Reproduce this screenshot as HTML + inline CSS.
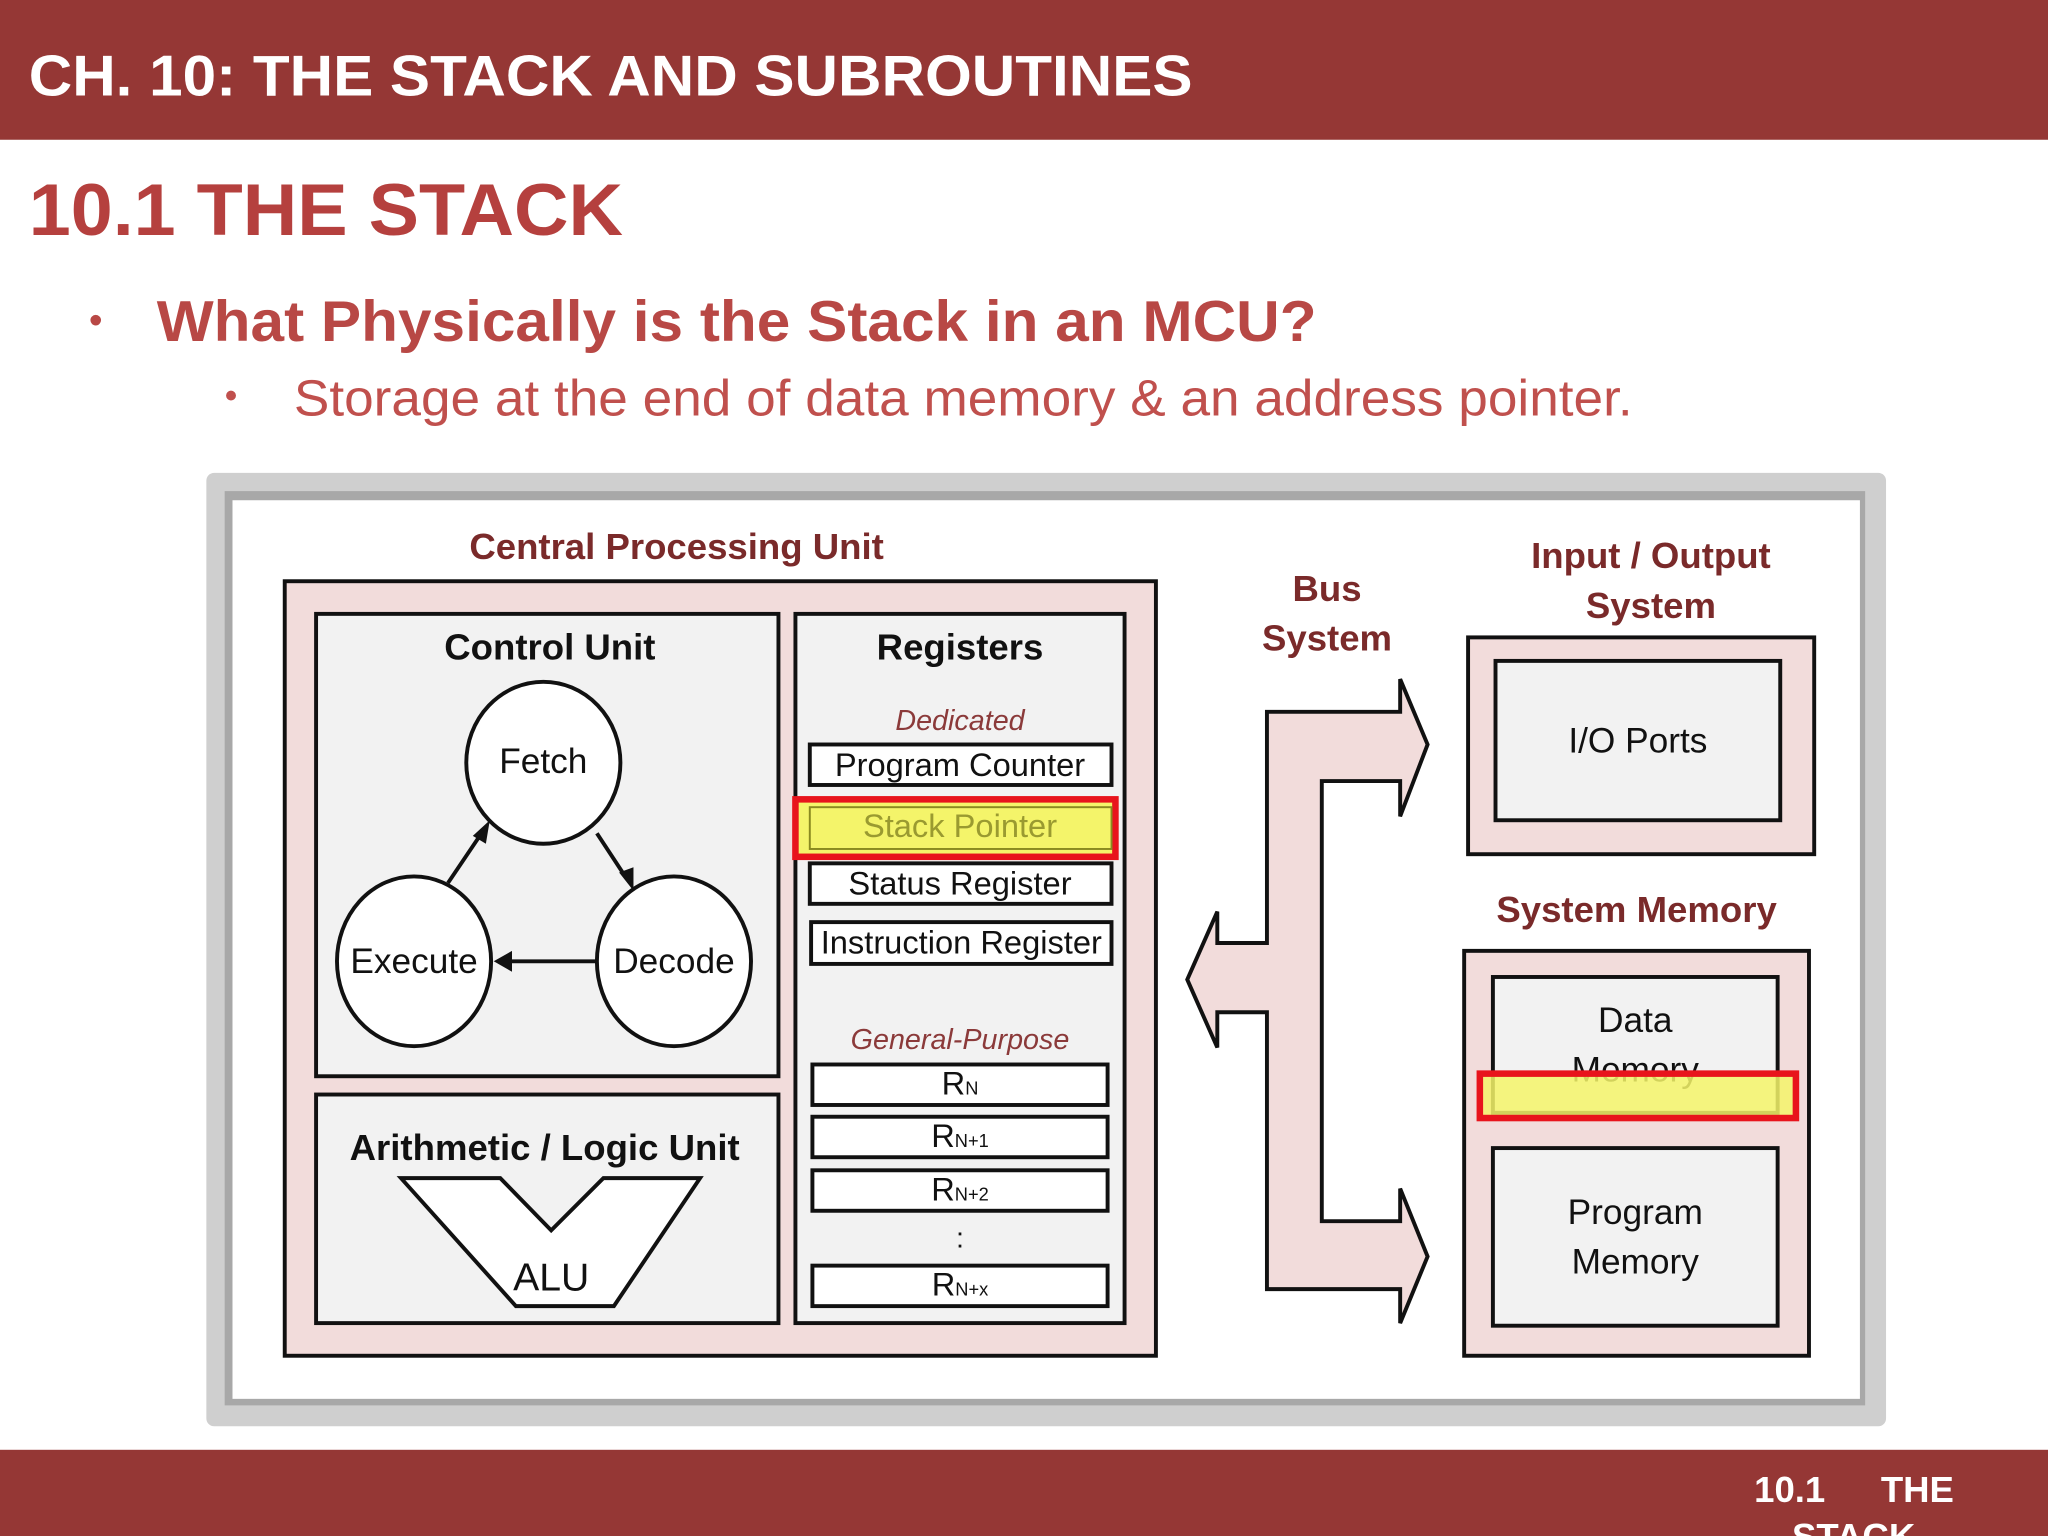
<!DOCTYPE html>
<html><head><meta charset="utf-8"><style>
html,body{margin:0;padding:0;background:#fff;}
svg{display:block;}
text{font-family:"Liberation Sans",Arial,sans-serif;}
</style></head><body>
<svg width="2048" height="1536" viewBox="0 0 1568 1176" xmlns="http://www.w3.org/2000/svg">
<rect x="0" y="0" width="1568" height="1176" fill="#fff"/>
<rect x="0" y="0" width="1568" height="107" fill="#953735"/>
<text x="22" y="73" font-size="44" font-weight="bold" fill="#fff" textLength="891" lengthAdjust="spacingAndGlyphs">CH. 10: THE STACK AND SUBROUTINES</text>
<text x="22" y="180" font-size="56" font-weight="bold" fill="#b5403e" textLength="455" lengthAdjust="spacingAndGlyphs">10.1 THE STACK</text>
<text x="68" y="255" font-size="30" fill="#b84845">•</text>
<text x="120" y="261" font-size="44" font-weight="bold" fill="#b84845" textLength="888" lengthAdjust="spacingAndGlyphs">What Physically is the Stack in an MCU?</text>
<text x="172" y="312" font-size="28" fill="#c0504d">•</text>
<text x="225" y="318" font-size="39" fill="#c0504d" textLength="1025" lengthAdjust="spacingAndGlyphs">Storage at the end of data memory &amp; an address pointer.</text>

<!-- frame -->
<rect x="158" y="362" width="1286" height="730" rx="6" fill="#cfcfcf"/>
<rect x="172" y="376" width="1256" height="700" fill="#a8a8a8"/>
<rect x="178" y="383" width="1246" height="688" fill="#fff"/>

<g stroke="#111" stroke-width="3">
<rect x="218" y="445" width="667" height="593" fill="#f2dcdb"/>
<rect x="242" y="470" width="354" height="354" fill="#f2f2f2"/>
<rect x="242" y="838" width="354" height="175" fill="#f2f2f2"/>
<rect x="609" y="470" width="252" height="543" fill="#f2f2f2"/>
<ellipse cx="416" cy="584" rx="59" ry="62" fill="#fff"/>
<ellipse cx="317" cy="736" rx="59" ry="65" fill="#fff"/>
<ellipse cx="516" cy="736" rx="59" ry="65" fill="#fff"/>
<line x1="343" y1="676" x2="370" y2="636"/>
<line x1="457" y1="638" x2="480" y2="673"/>
<line x1="456" y1="736" x2="388" y2="736"/>
<polygon points="307,902 383,902 422,942 462,902 536,902 470,1000 395,1000" fill="#fff"/>
<rect x="620" y="570" width="231" height="31" fill="#fff"/>
<rect x="620" y="661" width="231" height="31" fill="#fff"/>
<rect x="621" y="706" width="230" height="32" fill="#fff"/>
<rect x="622" y="815" width="226" height="31" fill="#fff"/>
<rect x="622" y="855" width="226" height="31" fill="#fff"/>
<rect x="622" y="896" width="226" height="31" fill="#fff"/>
<rect x="622" y="969" width="226" height="31" fill="#fff"/>
<polygon points="909,750 932,698 932,722 970,722 970,545 1072,545 1072,520 1093,570 1072,625 1072,598 1012,598 1012,935 1072,935 1072,910 1093,962 1072,1013 1072,987 970,987 970,775 932,775 932,802" fill="#f2dcdb"/>
<rect x="1124" y="488" width="265" height="166" fill="#f2dcdb"/>
<rect x="1145" y="506" width="218" height="122" fill="#f2f2f2"/>
<rect x="1121" y="728" width="264" height="310" fill="#f2dcdb"/>
<rect x="1143" y="748" width="218" height="104" fill="#f2f2f2"/>
<rect x="1143" y="879" width="218" height="136" fill="#f2f2f2"/>
</g>
<g fill="#111">
<polygon points="375,628 362,640 372,646"/>
<polygon points="485,682 474,668 485,664"/>
<polygon points="378,736 392,728 392,744"/>
</g>

<rect x="609" y="612" width="245" height="44" fill="#f4f46a" stroke="#e8141c" stroke-width="5"/>
<rect x="620" y="618" width="231" height="32" fill="none" stroke="#8a8a20" stroke-width="1.5"/>

<g font-size="28" font-weight="bold" fill="#7a2a2a" text-anchor="middle">
<text x="518" y="428">Central Processing Unit</text>
<text x="1016" y="460">Bus</text>
<text x="1016" y="498">System</text>
<text x="1264" y="435">Input / Output</text>
<text x="1264" y="473">System</text>
<text x="1253" y="706">System Memory</text>
</g>
<g font-size="28" font-weight="bold" fill="#111" text-anchor="middle">
<text x="421" y="505">Control Unit</text>
<text x="735" y="505">Registers</text>
<text x="417" y="888">Arithmetic / Logic Unit</text>
</g>
<g font-size="27" fill="#111" text-anchor="middle">
<text x="416" y="592">Fetch</text>
<text x="317" y="745">Execute</text>
<text x="516" y="745">Decode</text>
<text x="422" y="988" font-size="30">ALU</text>
<text x="735" y="594" font-size="25">Program Counter</text>
<text x="735" y="641" font-size="25" fill="#9a9a30">Stack Pointer</text>
<text x="735" y="685" font-size="25">Status Register</text>
<text x="736" y="730" font-size="25">Instruction Register</text>
<text x="735" y="838" font-size="25">R<tspan font-size="14">N</tspan></text>
<text x="735" y="878" font-size="25">R<tspan font-size="14">N+1</tspan></text>
<text x="735" y="919" font-size="25">R<tspan font-size="14">N+2</tspan></text>
<text x="735" y="955" font-size="22">:</text>
<text x="735" y="992" font-size="25">R<tspan font-size="14">N+x</tspan></text>
<text x="1254" y="576">I/O Ports</text>
<text x="1252" y="790">Data</text>
<text x="1252" y="828">Memory</text>
<text x="1252" y="937">Program</text>
<text x="1252" y="975">Memory</text>
</g>
<g font-size="22" font-style="italic" fill="#8b3a3a" text-anchor="middle">
<text x="735" y="559">Dedicated</text>
<text x="735" y="803">General-Purpose</text>
</g>
<rect x="1133" y="822" width="242" height="34" fill="#f4f46a" fill-opacity="0.85" stroke="#e8141c" stroke-width="5"/>

<rect x="0" y="1110" width="1568" height="66" fill="#953735"/>
<text x="1343" y="1150" font-size="28" font-weight="bold" fill="#fff">10.1</text>
<text x="1440" y="1150" font-size="28" font-weight="bold" fill="#fff">THE</text>
<text x="1372" y="1186" font-size="28" font-weight="bold" fill="#fff">STACK</text>
</svg>
</body></html>
